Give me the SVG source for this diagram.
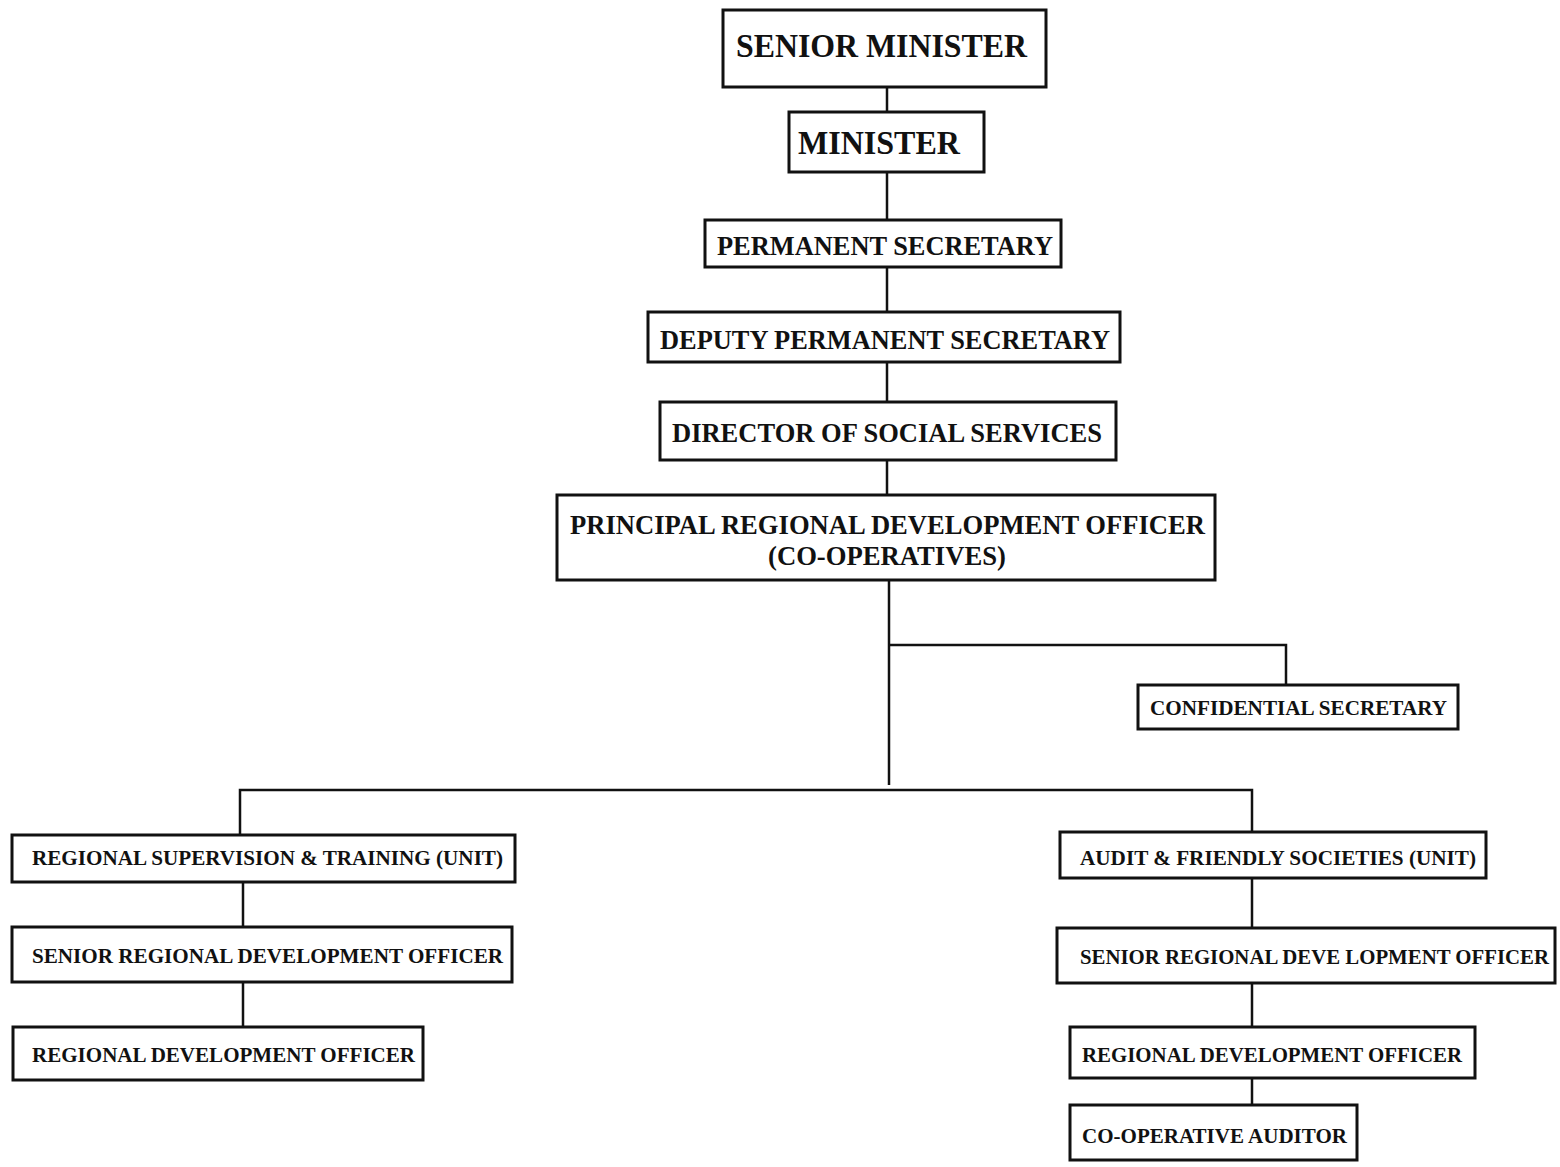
<svg xmlns="http://www.w3.org/2000/svg" width="1560" height="1167" viewBox="0 0 1560 1167">
<style>
.box{fill:#fff;stroke:#111;stroke-width:3}
.ln{fill:none;stroke:#111;stroke-width:2.5}
.t{font-family:"Liberation Serif","Times New Roman",serif;font-weight:bold;fill:#111}
.big{font-size:34px}
.mid{font-size:27px}
.sm{font-size:21px}
</style>
<rect width="1560" height="1167" fill="#fff"/>
<g id="connectors">
<path class="ln" d="M887 87V112M887 172V220M887 267V312M887 362V402M887 460V495M889 580V785"/>
<path class="ln" d="M889 645H1286V685"/>
<path class="ln" d="M240 835V790H1252V832"/>
<path class="ln" d="M243 882V927M243 982V1027"/>
<path class="ln" d="M1252 878V928M1252 983V1027M1252 1078V1105"/>
</g>
<g id="senior-minister"><rect class="box" x="723" y="10" width="323" height="77"/><text class="t big" x="736" y="57" textLength="291" lengthAdjust="spacingAndGlyphs">SENIOR MINISTER</text></g>
<g id="minister"><rect class="box" x="789" y="112" width="195" height="60"/><text class="t big" x="798" y="154" textLength="162" lengthAdjust="spacingAndGlyphs">MINISTER</text></g>
<g id="permanent-secretary"><rect class="box" x="705" y="220" width="356" height="47"/><text class="t mid" x="717" y="255" textLength="336" lengthAdjust="spacingAndGlyphs">PERMANENT SECRETARY</text></g>
<g id="deputy-permanent-secretary"><rect class="box" x="648" y="312" width="472" height="50"/><text class="t mid" x="660" y="349" textLength="450" lengthAdjust="spacingAndGlyphs">DEPUTY PERMANENT SECRETARY</text></g>
<g id="director-social-services"><rect class="box" x="660" y="402" width="456" height="58"/><text class="t mid" x="672" y="442" textLength="430" lengthAdjust="spacingAndGlyphs">DIRECTOR OF SOCIAL SERVICES</text></g>
<g id="principal-rdo"><rect class="box" x="557" y="495" width="658" height="85"/><text class="t mid" x="570" y="534" textLength="635" lengthAdjust="spacingAndGlyphs">PRINCIPAL REGIONAL DEVELOPMENT OFFICER</text><text class="t mid" x="768" y="565" textLength="238" lengthAdjust="spacingAndGlyphs">(CO-OPERATIVES)</text></g>
<g id="confidential-secretary"><rect class="box" x="1138" y="685" width="320" height="44"/><text class="t sm" x="1150" y="715" textLength="297" lengthAdjust="spacingAndGlyphs">CONFIDENTIAL SECRETARY</text></g>
<g id="regional-supervision-training"><rect class="box" x="12" y="835" width="503" height="47"/><text class="t sm" x="32" y="865" textLength="471" lengthAdjust="spacingAndGlyphs">REGIONAL SUPERVISION &amp; TRAINING (UNIT)</text></g>
<g id="senior-rdo-left"><rect class="box" x="12" y="927" width="500" height="55"/><text class="t sm" x="32" y="963" textLength="471" lengthAdjust="spacingAndGlyphs">SENIOR REGIONAL DEVELOPMENT OFFICER</text></g>
<g id="rdo-left"><rect class="box" x="13" y="1027" width="410" height="53"/><text class="t sm" x="32" y="1062" textLength="383" lengthAdjust="spacingAndGlyphs">REGIONAL DEVELOPMENT OFFICER</text></g>
<g id="audit-friendly-societies"><rect class="box" x="1060" y="832" width="426" height="46"/><text class="t sm" x="1080" y="865" textLength="396" lengthAdjust="spacingAndGlyphs">AUDIT &amp; FRIENDLY SOCIETIES (UNIT)</text></g>
<g id="senior-rdo-right"><rect class="box" x="1057" y="928" width="498" height="55"/><text class="t sm" x="1080" y="964" textLength="469" lengthAdjust="spacingAndGlyphs">SENIOR REGIONAL DEVE LOPMENT OFFICER</text></g>
<g id="rdo-right"><rect class="box" x="1070" y="1027" width="405" height="51"/><text class="t sm" x="1082" y="1062" textLength="380" lengthAdjust="spacingAndGlyphs">REGIONAL DEVELOPMENT OFFICER</text></g>
<g id="cooperative-auditor"><rect class="box" x="1070" y="1105" width="287" height="55"/><text class="t sm" x="1082" y="1143" textLength="265" lengthAdjust="spacingAndGlyphs">CO-OPERATIVE AUDITOR</text></g>
</svg>
